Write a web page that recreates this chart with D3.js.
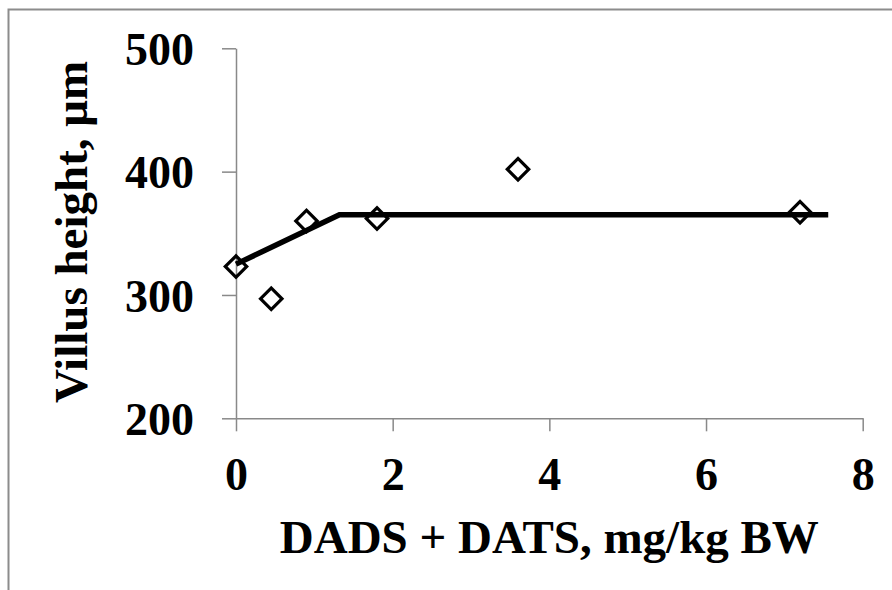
<!DOCTYPE html>
<html>
<head>
<meta charset="utf-8">
<script src="https://cdn.jsdelivr.net/npm/d3@7"></script>
<style>
    body { margin: 0; background: #fff; }
    svg { display: block; }
    text { font-family: "Liberation Serif", "Times New Roman", serif; font-weight: bold; fill: #000; }
</style>
</head>
<body>
<div id="chart"></div>
<script>
// observed villus height vs. dose
const doseValues = [0, 0.45, 0.9, 1.8, 3.6, 7.2];
const villusValues = [323, 297, 360, 362, 402, 367];

// broken-line fit
const fitX = [0, 1.32, 7.56];
const fitY = [325, 365, 365];

const xTicks = [0, 2, 4, 6, 8];
const yTicks = [200, 300, 400, 500];

const xTitle = "DADS + DATS, mg/kg BW";
const yTitle = "Villus height, \u03bcm";

const width = 892;
const height = 590;
const margin = { top: 48.3, right: 29.3, bottom: 171.7, left: 236 };

const svg = d3.select("#chart").append("svg")
    .attr("width", width)
    .attr("height", height);

// frame (only top and left edges show)
svg.append("path")
    .attr("d", `M8.5,${height} L8.5,9.5 L${width},9.5`)
    .attr("fill", "none")
    .attr("stroke", "#8c8c8c")
    .attr("stroke-width", 2);

const xScale = d3.scaleLinear()
    .domain([0, 8])
    .range([margin.left, width - margin.right]);

const yScale = d3.scaleLinear()
    .domain([200, 500])
    .range([height - margin.bottom, margin.top]);

const axisColor = "#898989";

let xAxisG = svg.append("g")
    .attr("transform", `translate(0,${height - margin.bottom})`)
    .call(d3.axisBottom(xScale).tickValues(xTicks).tickSize(13).tickSizeOuter(0));

let yAxisG = svg.append("g")
    .attr("transform", `translate(${margin.left},0)`)
    .call(d3.axisLeft(yScale).tickValues(yTicks).tickSize(14).tickSizeOuter(0));

[xAxisG, yAxisG].forEach(g => {
    g.select(".domain").attr("stroke", axisColor).attr("stroke-width", 1.5);
    g.selectAll(".tick line").attr("stroke", axisColor).attr("stroke-width", 1.5);
    g.selectAll(".tick text")
        .attr("fill", "#000")
        .style("font-size", "46px")
        .style("font-family", "'Liberation Serif', 'Times New Roman', serif")
        .style("font-weight", "bold");
});

xAxisG.selectAll(".tick text").attr("y", 72).attr("dy", 0);
yAxisG.selectAll(".tick text").attr("x", -42).attr("dy", "0.35em");

// axis titles
svg.append("text")
    .attr("x", (xScale(0) + xScale(8)) / 2)
    .attr("y", 553)
    .attr("text-anchor", "middle")
    .style("font-size", "47px")
    .text(xTitle);

svg.append("text")
    .attr("transform", `translate(87,${232}) rotate(-90)`)
    .attr("text-anchor", "middle")
    .style("font-size", "47px")
    .text(yTitle);

// fitted line
const fitData = fitX.map((x, i) => ({ x, y: fitY[i] }));
svg.append("path")
    .datum(fitData)
    .attr("d", d3.line().x(d => xScale(d.x)).y(d => yScale(d.y)))
    .attr("fill", "none")
    .attr("stroke", "#000")
    .attr("stroke-width", 5.5);

// diamond markers
const points = doseValues.map((x, i) => ({ x, y: villusValues[i] }));
const diamond = d3.symbol().type(d3.symbolSquare).size(230);
svg.append("g")
    .selectAll("path")
    .data(points)
    .join("path")
    .attr("d", diamond)
    .attr("transform", d => `translate(${xScale(d.x)},${yScale(d.y)}) rotate(45)`)
    .attr("fill", "none")
    .attr("stroke", "#000")
    .attr("stroke-width", 3.2);
</script>
</body>
</html>
